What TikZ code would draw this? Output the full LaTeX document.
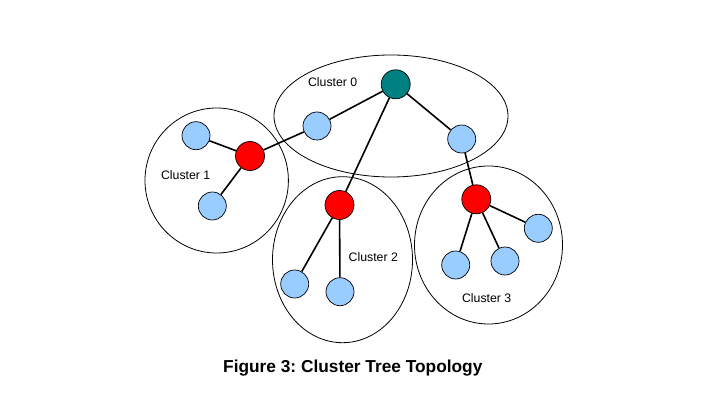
\documentclass[tikz,border=0pt]{standalone}
\usepackage{fontspec}
\setmainfont{Liberation Sans}
\frenchspacing
\definecolor{teal0}{HTML}{008080}
\definecolor{redn}{HTML}{FF0000}
\definecolor{bluen}{HTML}{99CCFF}
\begin{document}
\begin{tikzpicture}[x=1pt,y=-1pt,
  ring/.style={draw=black,line width=0.8pt},
  node0/.style={circle,draw=black,line width=0.7pt,inner sep=0pt,minimum size=29pt},
  rootn/.style={node0,fill=teal0},
  headn/.style={node0,fill=redn},
  leafn/.style={node0,fill=bluen,minimum size=28pt},
  link/.style={draw=black,line width=1.6pt},
  lbl/.style={font=\fontsize{12.3}{14}\selectfont,inner sep=0pt},
  captext/.style={font=\bfseries\fontsize{17.3}{20}\selectfont,inner sep=0pt}]
\useasboundingbox (0,0) rectangle (714,403);
% cluster outlines
\draw[ring] (391,116) ellipse [x radius=117, y radius=61];
\draw[ring] (216.7,180.5) ellipse [x radius=71.7, y radius=72.5];
\draw[ring] (342.5,259.7) ellipse [x radius=70, y radius=83];
\draw[ring] (488.5,245) ellipse [x radius=74, y radius=79];
% nodes
\node[rootn] (r) at (395.7,84.3) {};
\node[leafn] (c0a) at (317,126) {};
\node[leafn] (c0b) at (461.7,139) {};
\node[headn] (h1) at (250,156) {};
\node[leafn] (c1a) at (196,135.7) {};
\node[leafn] (c1b) at (212.3,206) {};
\node[headn] (h2) at (339.5,205) {};
\node[leafn] (c2a) at (294.7,284) {};
\node[leafn] (c2b) at (340,291.7) {};
\node[headn] (h3) at (476.3,199.3) {};
\node[leafn] (c3a) at (455.7,265) {};
\node[leafn] (c3b) at (505,261) {};
\node[leafn] (c3c) at (538.3,228.3) {};
% links
\draw[link] (r) -- (c0a);
\draw[link] (r) -- (c0b);
\draw[link] (r) -- (h2);
\draw[link] (c0a) -- (h1);
\draw[link] (c0b) -- (h3);
\draw[link] (h1) -- (c1a);
\draw[link] (h1) -- (c1b);
\draw[link] (h2) -- (c2a);
\draw[link] (h2) -- (c2b);
\draw[link] (h3) -- (c3a);
\draw[link] (h3) -- (c3b);
\draw[link] (h3) -- (c3c);
% labels
\node[lbl] (l0) at (332.7,82) {Cluster 0};
\node[lbl] (l1) at (185.7,175) {Cluster 1};
\node[lbl] (l2) at (373.3,256.7) {Cluster 2};
\node[lbl] (l3) at (486.7,297.7) {Cluster 3};
\node[captext] (caption) at (352.8,368) {Figure 3: Cluster Tree Topology};
\end{tikzpicture}
\end{document}
